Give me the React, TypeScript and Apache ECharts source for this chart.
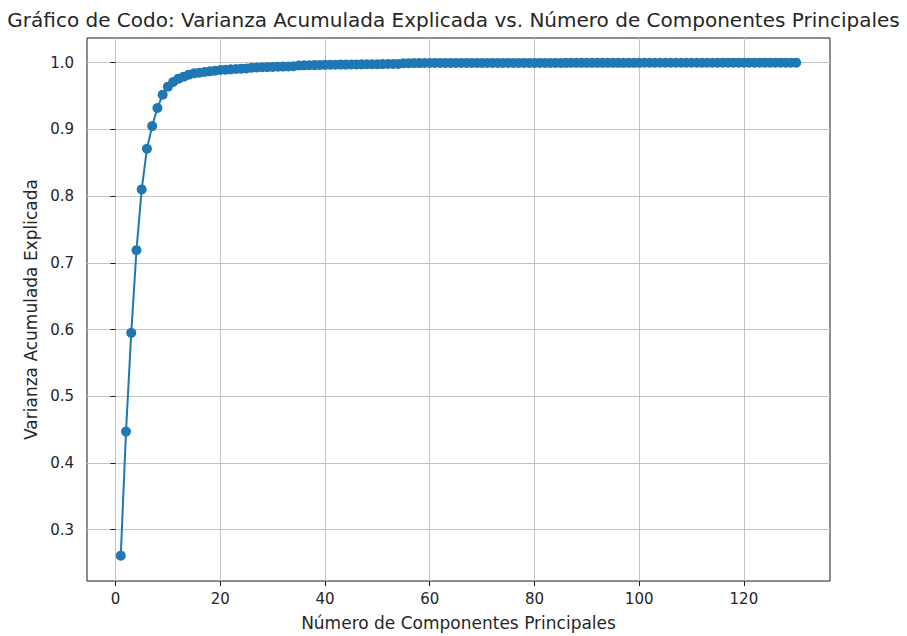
import React, { useEffect, useRef } from "react";
import * as echarts from "echarts";

const chartTitle =
  "Gráfico de Codo: Varianza Acumulada Explicada vs. Número de Componentes Principales";
const xAxisName = "Número de Componentes Principales";
const yAxisName = "Varianza Acumulada Explicada";

const xTicks = [0, 20, 40, 60, 80, 100, 120];
const yTicks = [0.3, 0.4, 0.5, 0.6, 0.7, 0.8, 0.9, 1.0];

// cumulative explained variance for components 1..130
const cumulativeVariance = [
  0.261, 0.447, 0.595, 0.719, 0.81, 0.871, 0.905, 0.932, 0.952, 0.964,
  0.971, 0.976, 0.979, 0.982, 0.984, 0.985, 0.986, 0.987, 0.988, 0.989,
  0.9895, 0.99, 0.9905, 0.991, 0.9913, 0.9925, 0.9928, 0.9931, 0.9934, 0.9937,
  0.994, 0.9942, 0.9944, 0.9946, 0.9958, 0.996, 0.9962, 0.9964, 0.9966, 0.9968,
  0.9969, 0.997, 0.9971, 0.9972, 0.9973, 0.9974, 0.9975, 0.9976, 0.9977, 0.9978,
  0.9979, 0.998, 0.9981, 0.9982, 0.9992, 0.9993, 0.9994, 0.9994, 0.9995, 0.9995,
  0.9996, 0.9996, 0.9996, 0.9996, 0.9996, 0.9996, 0.9996, 0.9996, 0.9996, 0.9996,
  0.9997, 0.9997, 0.9997, 0.9997, 0.9997, 0.9997, 0.9997, 0.9997, 0.9997, 0.9997,
  0.9997, 0.9997, 0.9997, 0.9997, 0.9997, 0.9998, 0.9998, 0.9998, 0.9998, 0.9998,
  0.9998, 0.9998, 0.9998, 0.9998, 0.9998, 0.9998, 0.9998, 0.9998, 0.9998, 0.9998,
  0.9999, 0.9999, 0.9999, 0.9999, 0.9999, 0.9999, 0.9999, 0.9999, 0.9999, 0.9999,
  0.9999, 0.9999, 0.9999, 0.9999, 0.9999, 1.0, 1.0, 1.0, 1.0, 1.0,
  1.0, 1.0, 1.0, 1.0, 1.0, 1.0, 1.0, 1.0, 1.0, 1.0,
];

const FONT = "DejaVu Sans";
const TEXT = "#262626";

export default function App() {
  const ref = useRef<HTMLDivElement>(null);

  useEffect(() => {
    document.body.style.margin = "0";
    const chart = echarts.init(ref.current!, null, { renderer: "svg" });
    const data = cumulativeVariance.map((v, i) => [i + 1, v]);

    chart.setOption({
      animation: false,
      backgroundColor: "#ffffff",
      title: {
        text: chartTitle,
        left: "center",
        top: 5,
        textStyle: {
          fontFamily: FONT,
          fontSize: 20,
          fontWeight: "normal",
          color: TEXT,
        },
      },
      grid: {
        left: 87,
        right: 77,
        top: 38,
        bottom: 54,
        show: true,
        borderColor: "#1a1a1a",
        borderWidth: 1,
        backgroundColor: "transparent",
      },
      xAxis: {
        type: "value",
        min: -5.45,
        max: 136.45,
        splitNumber: 7,
        name: xAxisName,
        nameLocation: "middle",
        nameGap: 33,
        nameTextStyle: { fontFamily: FONT, fontSize: 17, color: TEXT },
        axisLine: { show: false },
        axisTick: {
          show: true,
          customValues: xTicks,
          length: 5,
          lineStyle: { color: "#1a1a1a", width: 1 },
        },
        axisLabel: {
          customValues: xTicks,
          margin: 10,
          fontFamily: FONT,
          fontSize: 15,
          color: TEXT,
        },
        splitLine: { show: true, lineStyle: { color: "#c4c4c4", width: 1 } },
      },
      yAxis: {
        type: "value",
        min: 0.223,
        max: 1.037,
        splitNumber: 8,
        name: yAxisName,
        nameLocation: "middle",
        nameGap: 47,
        nameTextStyle: { fontFamily: FONT, fontSize: 17, color: TEXT },
        axisLine: { show: false },
        axisTick: {
          show: true,
          customValues: yTicks,
          length: 5,
          lineStyle: { color: "#1a1a1a", width: 1 },
        },
        axisLabel: {
          customValues: yTicks,
          margin: 13,
          fontFamily: FONT,
          fontSize: 15,
          color: TEXT,
          formatter: (v: number) => v.toFixed(1),
        },
        splitLine: { show: true, lineStyle: { color: "#c4c4c4", width: 1 } },
      },
      series: [
        {
          type: "line",
          data,
          symbol: "circle",
          symbolSize: 10,
          showSymbol: true,
          showAllSymbol: true,
          itemStyle: { color: "#1f77b4" },
          lineStyle: { color: "#1f77b4", width: 2 },
        },
      ],
    });

    return () => chart.dispose();
  }, []);

  return (
    <div
      ref={ref}
      style={{ position: "absolute", left: 0, top: 0, width: 907, height: 636 }}
    />
  );
}
